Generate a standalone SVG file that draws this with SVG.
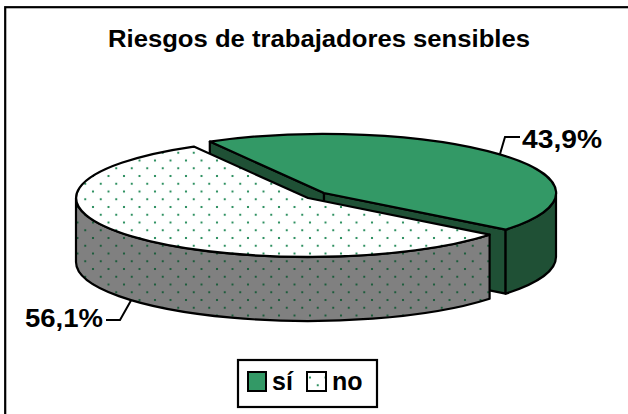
<svg xmlns="http://www.w3.org/2000/svg" width="628" height="414" viewBox="0 0 628 414">
  <style>
    .txt { font-family: "Liberation Sans", Arial, Helvetica, sans-serif; font-weight: bold; fill: #000; }
    .edge { stroke: #000; stroke-width: 2.2; stroke-linejoin: round; }
    .lead { fill: none; stroke: #000; stroke-width: 2; }
    .green { fill: #339966; }
    .dark { fill: #1f5035; }
  </style>
  <defs>
    <pattern id="dotsW" patternUnits="userSpaceOnUse" x="155" y="191.5" width="15.5" height="15.5">
      <rect width="15.5" height="15.5" fill="#ffffff"/>
      <rect x="-1" y="-1" width="2" height="2" fill="#2e9060"/>
      <rect x="6.75" y="6.75" width="2" height="2" fill="#2e9060"/>
      <rect x="14.5" y="14.5" width="2" height="2" fill="#2e9060"/>
      <rect x="14.5" y="-1" width="2" height="2" fill="#2e9060"/>
      <rect x="-1" y="14.5" width="2" height="2" fill="#2e9060"/>
    </pattern>
    <pattern id="dotsG" patternUnits="userSpaceOnUse" x="155" y="191.5" width="15.5" height="15.5">
      <rect width="15.5" height="15.5" fill="#808080"/>
      <rect x="-1" y="-1" width="2" height="2" fill="#1d5c3c"/>
      <rect x="6.75" y="6.75" width="2" height="2" fill="#1d5c3c"/>
      <rect x="14.5" y="14.5" width="2" height="2" fill="#1d5c3c"/>
      <rect x="14.5" y="-1" width="2" height="2" fill="#1d5c3c"/>
      <rect x="-1" y="14.5" width="2" height="2" fill="#1d5c3c"/>
    </pattern>
  </defs>

  <rect x="0" y="0" width="628" height="414" fill="#ffffff"/>
  <!-- chart frame (right and bottom edges lie outside the view) -->
  <rect x="5.2" y="7.2" width="660" height="440" fill="none" stroke="#000" stroke-width="2.2"/>

  <text id="title" class="txt" x="108" y="46.5" font-size="23" textLength="422" lengthAdjust="spacingAndGlyphs">Riesgos de trabajadores sensibles</text>

  <!-- slice: sí (exploded) -->
  <g id="slice-si">
    <path class="dark edge" d="M324,193 L209.8,141.6 L209.8,205.6 L324,257 Z"/>
    <path class="dark edge" d="M324,193 L505.6,229.7 L505.6,293.7 L324,257 Z"/>
    <path class="dark edge" d="M556,193 A232,59 0 0 1 505.6,229.7 L505.6,293.7 A232,59 0 0 0 556,257 Z"/>
    <path class="green edge" d="M324,193 L209.8,141.6 A232,59 0 0 1 505.6,229.7 Z"/>
  </g>

  <!-- slice: no -->
  <g id="slice-no">
    <path class="edge" fill="url(#dotsG)" d="M489.6,234.7 A232,59 0 0 1 76,198 L76,262 A232,59 0 0 0 489.6,298.7 Z"/>
    <path class="edge" fill="url(#dotsW)" d="M308,198 L489.6,234.7 A232,59 0 1 1 193.8,146.6 Z"/>
  </g>

  <g id="connectors">
    <polyline class="lead" points="520,137 505,137 500,154"/>
    <polyline class="lead" points="106,320 120,320 131,300.5"/>
  </g>

  <g id="label-si">
    <text class="txt" x="522" y="148" font-size="25" textLength="80" lengthAdjust="spacingAndGlyphs">43,9%</text>
  </g>
  <g id="label-no">
    <text class="txt" x="25" y="327" font-size="25" textLength="78" lengthAdjust="spacingAndGlyphs">56,1%</text>
  </g>

  <g id="legend">
    <rect x="238" y="360" width="139" height="47" fill="#ffffff" stroke="#000" stroke-width="2.2"/>
    <rect x="248" y="372" width="18" height="19" class="green" stroke="#000" stroke-width="2"/>
    <text class="txt" x="272" y="390" font-size="25">sí</text>
    <rect x="307" y="372" width="19" height="19" fill="url(#dotsW)" stroke="#000" stroke-width="2"/>
    <text class="txt" x="332" y="390" font-size="25">no</text>
  </g>
</svg>
